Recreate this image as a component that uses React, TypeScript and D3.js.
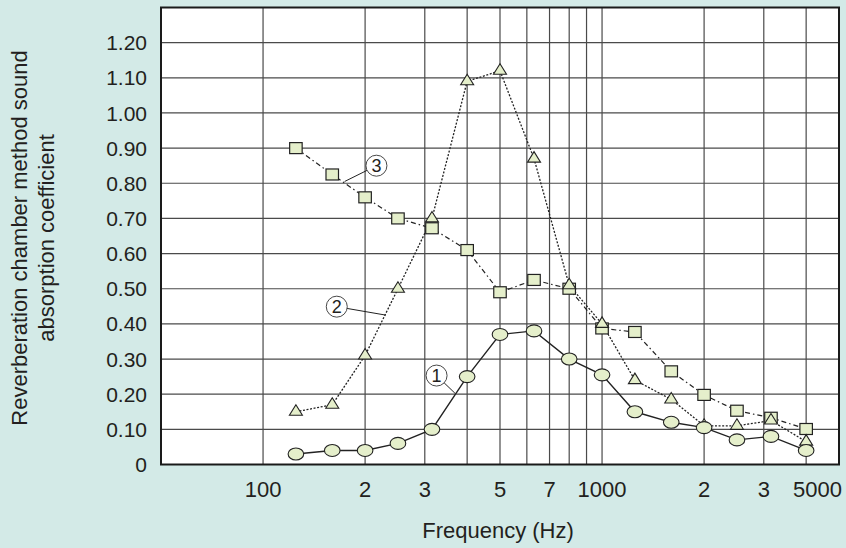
import * as d3 from "d3";

// 1/3-octave band centre frequencies (Hz)
const freqs = [125, 160, 200, 250, 315, 400, 500, 630, 800, 1000, 1250, 1600, 2000, 2500, 3150, 4000];

// sound absorption coefficients
const series1 = [0.03, 0.04, 0.04, 0.06, 0.1, 0.25, 0.37, 0.38, 0.3, 0.255, 0.15, 0.12, 0.105, 0.07, 0.08, 0.04];
const series2 = [0.15, 0.17, 0.31, 0.5, 0.7, 1.09, 1.12, 0.87, 0.51, 0.4, 0.24, 0.185, 0.11, 0.11, 0.125, 0.065];
const series3 = [0.9, 0.825, 0.76, 0.7, 0.672, 0.61, 0.49, 0.525, 0.5, 0.387, 0.377, 0.265, 0.198, 0.153, 0.133, 0.101];

const yTicks = [0, 0.1, 0.2, 0.3, 0.4, 0.5, 0.6, 0.7, 0.8, 0.9, 1.0, 1.1, 1.2];
const xGrid = [100, 200, 300, 400, 500, 600, 700, 800, 900, 1000, 2000, 3000, 4000];
const xTickValues = [100, 200, 300, 500, 700, 1000, 2000, 3000, 5000];
const xTickLabels = ["100", "2", "3", "5", "7", "1000", "2", "3", "5000"];

// callouts: label position and leader end in data space
const callouts = [
  { label: "1", at: [325, 0.253], to: [368, 0.203] },
  { label: "2", at: [165, 0.449], to: [230, 0.425] },
  { label: "3", at: [216, 0.85], to: [174, 0.805] },
];

const W = 846;
const H = 548;
const left = 161, right = 839, top = 7.5, bottom = 464.5;
const font = "'Liberation Sans', Arial, sans-serif";
const ink = "#231f20";
const markFill = "#e5efcb";

export default function App() {
  const x = d3.scaleLog().domain([50, 5000]).range([left, right]);
  const y = d3.scaleLinear().domain([0, 1.3]).range([bottom, top]);

  const line = d3
    .line<number>()
    .x((_, i) => x(freqs[i]))
    .y((d) => y(d));

  const tri = (cx: number, cy: number) => {
    const w = 13, h = 10.5;
    return `M${cx},${cy - (h * 2) / 3}L${cx + w / 2},${cy + h / 3}L${cx - w / 2},${cy + h / 3}Z`;
  };

  return (
    <svg
      width={W}
      height={H}
      style={{ position: "absolute", left: 0, top: 0, display: "block" }}
      fontFamily={font}
    >
      <rect width={W} height={H} fill="#d3eae7" />
      <rect x={left} y={top} width={right - left} height={bottom - top} fill="#fff" />

      {/* grid */}
      {xGrid.map((f) => (
        <line key={"gx" + f} x1={x(f)} x2={x(f)} y1={top} y2={bottom} stroke="#4a4a4a" strokeWidth={1.2} />
      ))}
      {yTicks.slice(1).map((v) => (
        <line key={"gy" + v} x1={left} x2={right} y1={y(v)} y2={y(v)} stroke="#4a4a4a" strokeWidth={1.2} />
      ))}
      <rect
        x={left}
        y={top}
        width={right - left}
        height={bottom - top}
        fill="none"
        stroke="#1a1a1a"
        strokeWidth={2}
      />

      {/* lines */}
      <path d={line(series3) ?? ""} fill="none" stroke="#222" strokeWidth={1.2} strokeDasharray="5,3,1.5,3" />
      <path d={line(series2) ?? ""} fill="none" stroke="#222" strokeWidth={1.3} strokeDasharray="2,1.6" />
      <path d={line(series1) ?? ""} fill="none" stroke="#222" strokeWidth={1.4} />

      {/* markers */}
      {series3.map((v, i) => (
        <rect
          key={"s" + i}
          x={x(freqs[i]) - 6.25}
          y={y(v) - 5.5}
          width={12.5}
          height={11}
          fill={markFill}
          stroke="#222"
          strokeWidth={1.2}
        />
      ))}
      {series2.map((v, i) => (
        <path key={"t" + i} d={tri(x(freqs[i]), y(v))} fill={markFill} stroke="#222" strokeWidth={1.1} />
      ))}
      {series1.map((v, i) => (
        <ellipse
          key={"c" + i}
          cx={x(freqs[i])}
          cy={y(v)}
          rx={7.8}
          ry={6}
          fill={markFill}
          stroke="#222"
          strokeWidth={1.1}
        />
      ))}

      {/* callouts */}
      {callouts.map((c) => {
        const cx = x(c.at[0]), cy = y(c.at[1]);
        const ex = x(c.to[0]), ey = y(c.to[1]);
        const r = 10.5;
        const a = Math.atan2(ey - cy, ex - cx);
        return (
          <g key={"co" + c.label}>
            <line x1={cx + r * Math.cos(a)} y1={cy + r * Math.sin(a)} x2={ex} y2={ey} stroke="#222" strokeWidth={1} />
            <circle cx={cx} cy={cy} r={r} fill="#fff" stroke="#333" strokeWidth={0.9} />
            <text x={cx} y={cy} dy="0.36em" textAnchor="middle" fontSize={18} fill={ink}>
              {c.label}
            </text>
          </g>
        );
      })}

      {/* y ticks */}
      {yTicks.map((v) => (
        <text key={"yt" + v} x={147} y={y(v)} dy="0.36em" textAnchor="end" fontSize={21} fill={ink}>
          {v === 0 ? "0" : v.toFixed(2)}
        </text>
      ))}

      {/* x ticks */}
      {xTickValues.map((f, i) => (
        <text
          key={"xt" + i}
          x={f === 5000 ? x(f) + 3 : x(f)}
          y={496.5}
          textAnchor={f === 5000 ? "end" : "middle"}
          fontSize={22}
          fill={ink}
        >
          {xTickLabels[i]}
        </text>
      ))}

      <text x={498} y={538} textAnchor="middle" fontSize={22} fill={ink}>
        Frequency (Hz)
      </text>
      <text transform="translate(27,238) rotate(-90)" textAnchor="middle" fontSize={22} fill={ink}>
        <tspan x={0} dy="0">Reverberation chamber method sound</tspan>
        <tspan x={0} dy="27">absorption coefficient</tspan>
      </text>
    </svg>
  );
}
